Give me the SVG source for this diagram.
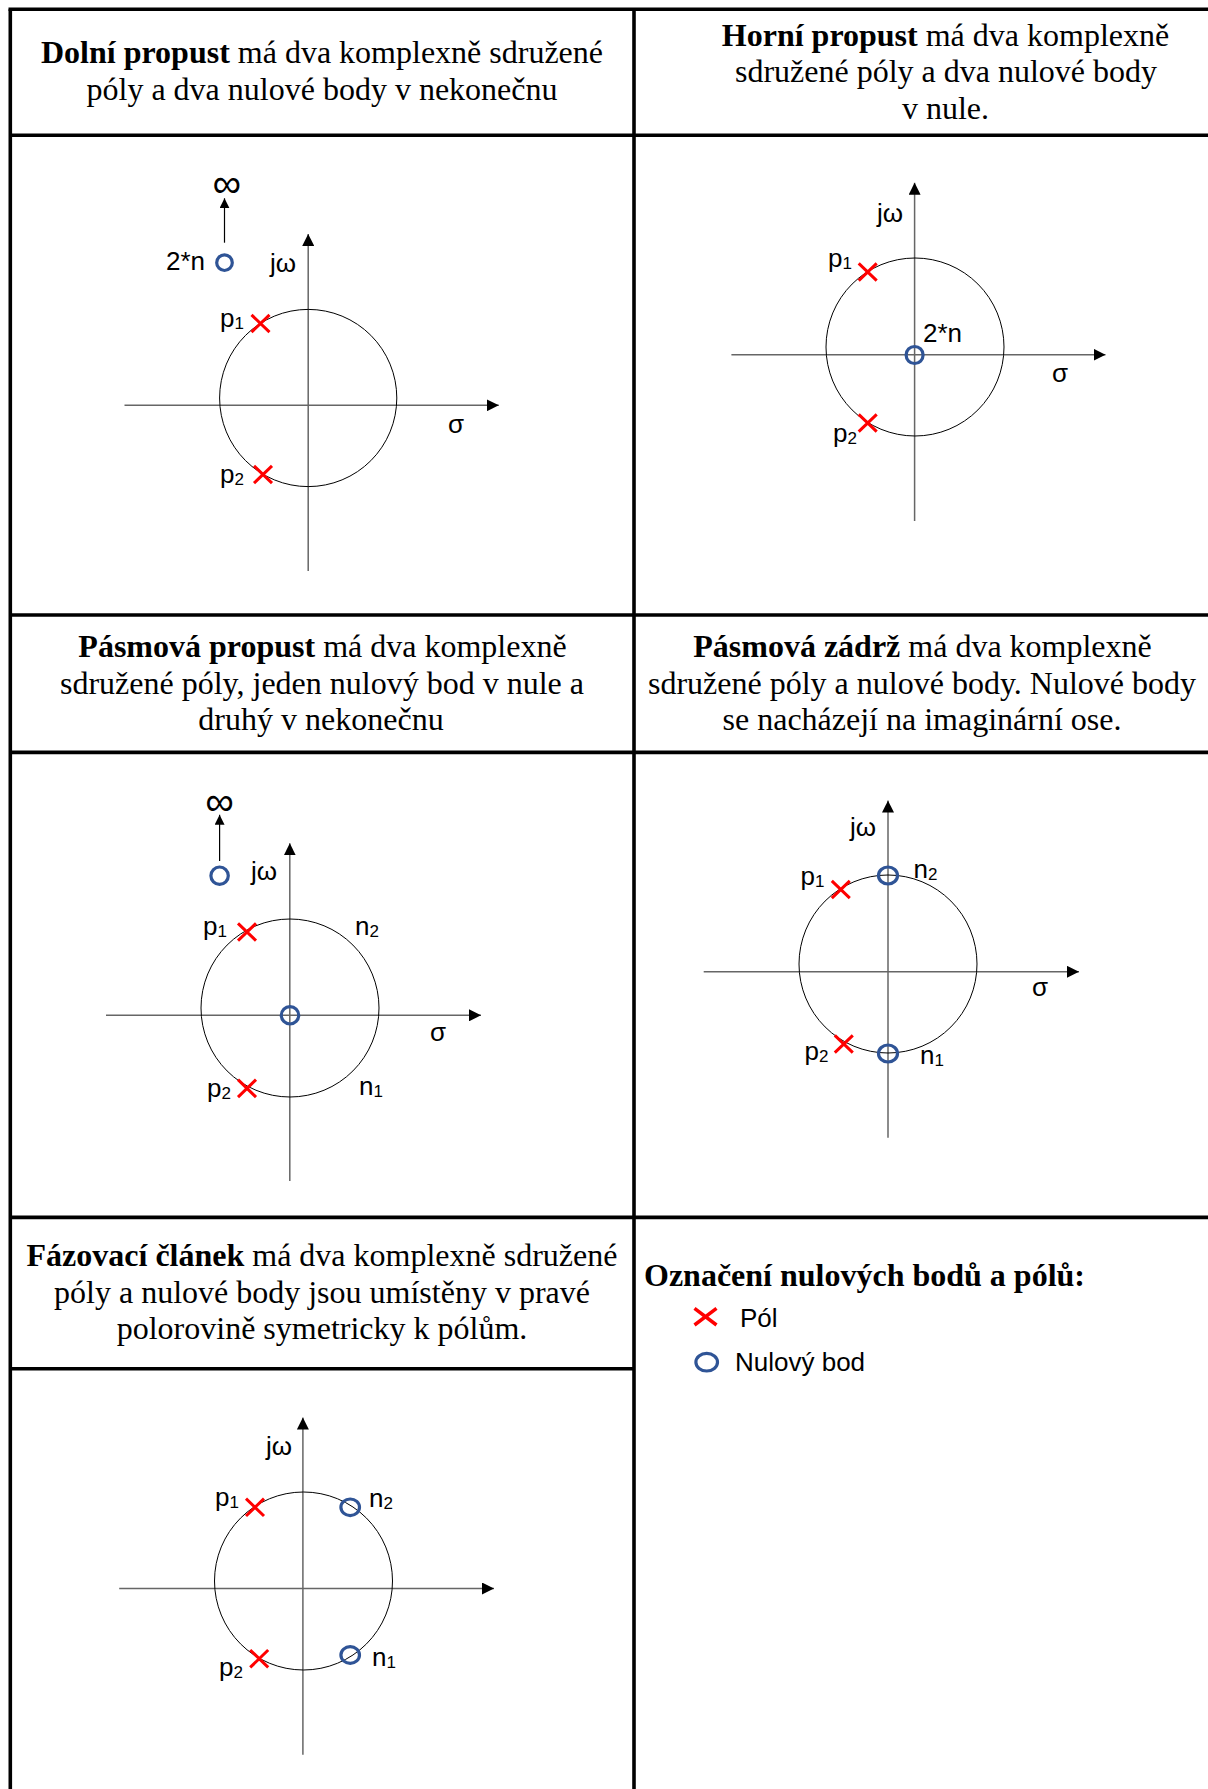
<svg xmlns="http://www.w3.org/2000/svg" width="1208" height="1789" viewBox="0 0 1208 1789">
<defs>
<marker id="ah" viewBox="0 0 12 12" markerWidth="12" markerHeight="12" markerUnits="userSpaceOnUse" refX="12" refY="6" orient="auto"><path d="M0,0 L12,6 L0,12 z" fill="#000"/></marker>
<marker id="ahs" viewBox="0 0 10 10" markerWidth="10" markerHeight="10" markerUnits="userSpaceOnUse" refX="10" refY="5" orient="auto"><path d="M0,0 L10,5 L0,10 z" fill="#000"/></marker>
<g id="pole"><path d="M-9,-8.7 L9,8.7 M-9,8.7 L9,-8.7" stroke="#ff0000" stroke-width="3" fill="none"/></g>
</defs>
<style>
.grid{stroke:#000;stroke-width:3.6;fill:none}
.title{font-family:"Liberation Serif","Times New Roman",serif;font-size:32px;fill:#000;text-anchor:middle}
.legtitle{font-family:"Liberation Serif","Times New Roman",serif;font-size:32px;fill:#000;font-weight:bold;text-anchor:start}
.b{font-weight:bold}
.ax{stroke:#666;stroke-width:1.5;fill:none}
.uc{stroke:#000;stroke-width:1;fill:none}
.inf{stroke:#000;stroke-width:1.2;fill:none}
.zero{stroke:#2F5496;stroke-width:3.2;fill:none}
.lbl{font-family:"Liberation Sans",Arial,sans-serif;font-size:26px;fill:#000}
.infty{font-family:"DejaVu Sans",sans-serif;font-weight:200;font-size:40px;fill:#000;text-anchor:middle}
.sub{font-size:17px}
.leg{font-family:"Liberation Sans",Arial,sans-serif;font-size:26px;fill:#000}
</style>
<rect width="1208" height="1789" fill="#fff"/>
<g id="table">
<line class="grid" x1="8.5" y1="9.3" x2="1208" y2="9.3"/>
<line class="grid" x1="10.3" y1="9.3" x2="10.3" y2="1789"/>
<line class="grid" x1="634" y1="9.3" x2="634" y2="1789"/>
<line class="grid" x1="10.3" y1="135.3" x2="1208" y2="135.3"/>
<line class="grid" x1="10.3" y1="615" x2="1208" y2="615"/>
<line class="grid" x1="10.3" y1="752.4" x2="1208" y2="752.4"/>
<line class="grid" x1="10.3" y1="1217.4" x2="1208" y2="1217.4"/>
<line class="grid" x1="10.3" y1="1368.8" x2="634" y2="1368.8"/>
</g>
<g id="title-dolni"><text class="title" x="322" y="63.3"><tspan class="b">Dolní propust</tspan> má dva komplexně sdružené</text><text class="title" x="322" y="99.5">póly a dva nulové body v nekonečnu</text></g>
<g id="title-horni"><text class="title" x="945.5" y="45.5"><tspan class="b">Horní propust</tspan> má dva komplexně</text><text class="title" x="946" y="82">sdružené póly a dva nulové body</text><text class="title" x="945.5" y="118.6">v nule.</text></g>
<g id="title-pasmova-propust"><text class="title" x="322.5" y="657.4"><tspan class="b">Pásmová propust</tspan> má dva komplexně</text><text class="title" x="322" y="693.8">sdružené póly, jeden nulový bod v nule a</text><text class="title" x="321" y="730">druhý v nekonečnu</text></g>
<g id="title-pasmova-zadrz"><text class="title" x="922.5" y="657.4"><tspan class="b">Pásmová zádrž</tspan> má dva komplexně</text><text class="title" x="922" y="693.5">sdružené póly a nulové body. Nulové body</text><text class="title" x="922" y="729.5">se nacházejí na imaginární ose.</text></g>
<g id="title-fazovaci"><text class="title" x="322" y="1266"><tspan class="b">Fázovací článek</tspan> má dva komplexně sdružené</text><text class="title" x="322" y="1302.5">póly a nulové body jsou umístěny v pravé</text><text class="title" x="322" y="1339.3">polorovině symetricky k pólům.</text></g>

<g id="plot-dolni">
<line class="ax" x1="124.5" y1="405.3" x2="498.8" y2="405.3" marker-end="url(#ah)"/>
<line class="ax" x1="308.2" y1="571" x2="308.2" y2="234" marker-end="url(#ah)"/>
<circle class="uc" cx="308.2" cy="398" r="88.6"/>
<circle class="zero" cx="224.5" cy="262.7" r="7.8"/>
<use href="#pole" x="260.5" y="323.5"/>
<use href="#pole" x="263" y="474.5"/>
<text class="infty" x="226.7" y="197">∞</text>
<text class="lbl" x="166" y="270" font-size="27">2*n</text>
<text class="lbl" x="270" y="272">jω</text>
<text class="lbl" x="220" y="327">p<tspan class="sub" dy="2">1</tspan></text>
<text class="lbl" x="220" y="483">p<tspan class="sub" dy="2">2</tspan></text>
<text class="lbl" x="448" y="433">σ</text>
</g>

<g id="plot-horni">
<line class="ax" x1="731.4" y1="354.7" x2="1105.5" y2="354.7" marker-end="url(#ah)"/>
<line class="ax" x1="914.6" y1="521" x2="914.6" y2="182.7" marker-end="url(#ah)"/>
<circle class="uc" cx="915" cy="347" r="89"/>
<circle class="zero" cx="914.6" cy="355" r="8.5"/>
<use href="#pole" x="867.7" y="272"/>
<use href="#pole" x="867.7" y="423"/>
<text class="lbl" x="923" y="342" font-size="27">2*n</text>
<text class="lbl" x="877" y="222">jω</text>
<text class="lbl" x="828" y="267">p<tspan class="sub" dy="2">1</tspan></text>
<text class="lbl" x="833" y="442">p<tspan class="sub" dy="2">2</tspan></text>
<text class="lbl" x="1052" y="381.5">σ</text>
</g>

<g id="plot-pasmova-propust">
<line class="ax" x1="106" y1="1015.3" x2="481" y2="1015.3" marker-end="url(#ah)"/>
<line class="ax" x1="289.8" y1="1181" x2="289.8" y2="843.3" marker-end="url(#ah)"/>
<circle class="uc" cx="290" cy="1008" r="89"/>
<circle class="zero" cx="290" cy="1015.3" r="8.7"/>
<circle class="zero" cx="219.6" cy="875.7" r="8.7"/>
<use href="#pole" x="247" y="932"/>
<use href="#pole" x="247" y="1088.4"/>
<text class="infty" x="219.6" y="815">∞</text>
<text class="lbl" x="251" y="880">jω</text>
<text class="lbl" x="203" y="935">p<tspan class="sub" dy="2">1</tspan></text>
<text class="lbl" x="355" y="935">n<tspan class="sub" dy="2">2</tspan></text>
<text class="lbl" x="207" y="1097">p<tspan class="sub" dy="2">2</tspan></text>
<text class="lbl" x="359" y="1095">n<tspan class="sub" dy="2">1</tspan></text>
<text class="lbl" x="430" y="1041">σ</text>
</g>

<g id="plot-pasmova-zadrz">
<line class="ax" x1="703.7" y1="971.8" x2="1079" y2="971.8" marker-end="url(#ah)"/>
<line class="ax" x1="888" y1="1137.8" x2="888" y2="800.6" marker-end="url(#ah)"/>
<circle class="uc" cx="888" cy="964" r="89"/>
<ellipse class="zero" cx="888" cy="875.5" rx="9.5" ry="8.5"/>
<ellipse class="zero" cx="888" cy="1053.5" rx="9.5" ry="8.5"/>
<use href="#pole" x="840.8" y="889.5"/>
<use href="#pole" x="843.8" y="1044"/>
<text class="lbl" x="850" y="836">jω</text>
<text class="lbl" x="800.5" y="885">p<tspan class="sub" dy="2">1</tspan></text>
<text class="lbl" x="913.5" y="878">n<tspan class="sub" dy="2">2</tspan></text>
<text class="lbl" x="804.5" y="1060">p<tspan class="sub" dy="2">2</tspan></text>
<text class="lbl" x="920" y="1064">n<tspan class="sub" dy="2">1</tspan></text>
<text class="lbl" x="1032" y="995.5">σ</text>
</g>

<g id="plot-fazovaci">
<line class="ax" x1="119.2" y1="1588.5" x2="494" y2="1588.5" marker-end="url(#ah)"/>
<line class="ax" x1="302.9" y1="1754.7" x2="302.9" y2="1417.5" marker-end="url(#ah)"/>
<circle class="uc" cx="303.5" cy="1581" r="89"/>
<use href="#pole" x="255" y="1507.3"/>
<use href="#pole" x="259.2" y="1658.7"/>
<ellipse class="zero" cx="350.2" cy="1507.3" rx="9.3" ry="8.3"/>
<ellipse class="zero" cx="350.2" cy="1655" rx="9.3" ry="8.3"/>
<text class="lbl" x="266" y="1455">jω</text>
<text class="lbl" x="215" y="1506">p<tspan class="sub" dy="2">1</tspan></text>
<text class="lbl" x="369" y="1507">n<tspan class="sub" dy="2">2</tspan></text>
<text class="lbl" x="219" y="1676">p<tspan class="sub" dy="2">2</tspan></text>
<text class="lbl" x="372" y="1666">n<tspan class="sub" dy="2">1</tspan></text>
</g>

<g id="legend">
<text class="legtitle" x="644" y="1285.7">Označení nulových bodů a pólů:</text>
<path d="M694.5,1308.4 L716.5,1325 M694.5,1325 L716.5,1308.4" stroke="#ff0000" stroke-width="3.5" fill="none"/>
<text class="leg" x="740" y="1326.7">Pól</text>
<ellipse class="zero" cx="706.7" cy="1362.2" rx="10.8" ry="8.8" stroke-width="3.5"/>
<text class="leg" x="735" y="1370.7">Nulový bod</text>
</g>

<g id="connectors">
<line class="inf" x1="224.5" y1="242.7" x2="224.5" y2="198.3" marker-end="url(#ahs)"/>
<line class="inf" x1="219.6" y1="861" x2="219.6" y2="814.8" marker-end="url(#ahs)"/>
</g>
</svg>
